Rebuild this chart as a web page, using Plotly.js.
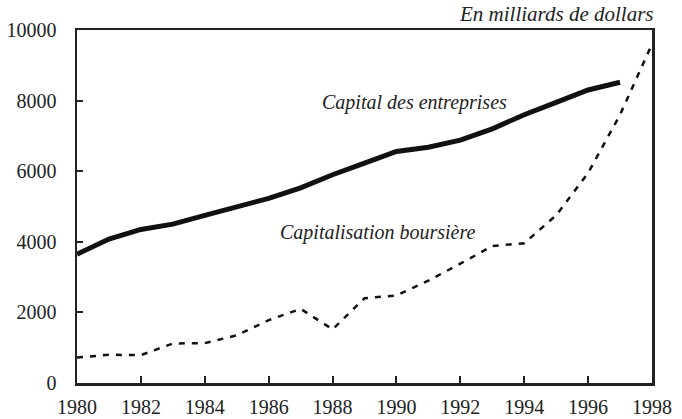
<!DOCTYPE html>
<html>
<head>
<meta charset="utf-8">
<script src="https://cdn.plot.ly/plotly-3.0.1.min.js"></script>
<style>html,body{margin:0;padding:0;background:#fff;}
#chart{width:682px;height:419px;}
#chart text{font-family:"Liberation Serif","Times New Roman",serif !important;}</style>
</head>
<body>
<div id="chart"></div>
<script>
const yearsCapital = [1980,1981,1982,1983,1984,1985,1986,1987,1988,1989,1990,1991,1992,1993,1994,1995,1996,1997];
const capitalEntreprises = [3650,4080,4350,4500,4750,5000,5230,5530,5900,6230,6560,6680,6880,7200,7600,7950,8300,8520];
const yearsBourse = [1980,1981,1982,1983,1984,1985,1986,1987,1988,1989,1990,1991,1992,1993,1994,1995,1996,1997,1998];
const capitalisationBoursiere = [720,800,790,1120,1130,1350,1780,2100,1520,2400,2480,2900,3380,3880,3960,4750,5950,7600,9600];
const xTicks = [1980,1982,1984,1986,1988,1990,1992,1994,1996,1998];
const yTicks = [0,2000,4000,6000,8000,10000];

const FAMILY = 'Liberation Serif';

const traces = [
  {x: yearsCapital, y: capitalEntreprises, mode: 'lines', type: 'scatter',
   line: {color: '#111', width: 5}, cliponaxis: false, hoverinfo: 'skip'},
  {x: yearsBourse, y: capitalisationBoursiere, mode: 'lines', type: 'scatter',
   line: {color: '#111', width: 2.5, dash: '6px,7px'}, cliponaxis: false, hoverinfo: 'skip'}
];

const layout = {
  width: 682, height: 419,
  margin: {l: 77, r: 30, t: 30, b: 36},
  paper_bgcolor: '#fff', plot_bgcolor: '#fff',
  showlegend: false,
  xaxis: {
    range: [1980, 1998], tickvals: xTicks, ticktext: xTicks.map(String),
    ticks: 'inside', ticklen: 7, tickwidth: 2, tickcolor: '#222',
    showline: true, linecolor: '#222', linewidth: 2.5, mirror: true,
    showgrid: false, zeroline: false, fixedrange: true,
    ticklabelstandoff: 4,
    tickfont: {family: FAMILY, size: 20, color: '#222'}
  },
  yaxis: {
    range: [0, 10000], tickvals: yTicks, ticktext: yTicks.map(String),
    ticks: 'inside', ticklen: 6, tickwidth: 2, tickcolor: '#222',
    showline: true, linecolor: '#222', linewidth: 2.5, mirror: true,
    showgrid: false, zeroline: false, fixedrange: true,
    ticklabelstandoff: 14,
    tickfont: {family: FAMILY, size: 20, color: '#222'}
  },
  annotations: [
    {text: '<i>En milliards de dollars</i>', xref: 'paper', yref: 'paper', x: 1.005, y: 1.005, xanchor: 'right', yanchor: 'bottom',
     showarrow: false, font: {family: FAMILY, size: 21, color: '#222'}},
    {text: '<i>Capital des entreprises</i>', xref: 'x', yref: 'y', x: 1987.6, y: 7950, xanchor: 'left', yanchor: 'middle',
     showarrow: false, font: {family: FAMILY, size: 20, color: '#222'}},
    {text: '<i>Capitalisation boursière</i>', xref: 'x', yref: 'y', x: 1986.3, y: 4250, xanchor: 'left', yanchor: 'middle',
     showarrow: false, font: {family: FAMILY, size: 20, color: '#222'}}
  ]
};

Plotly.newPlot('chart', traces, layout, {staticPlot: true});
</script>
</body>
</html>
